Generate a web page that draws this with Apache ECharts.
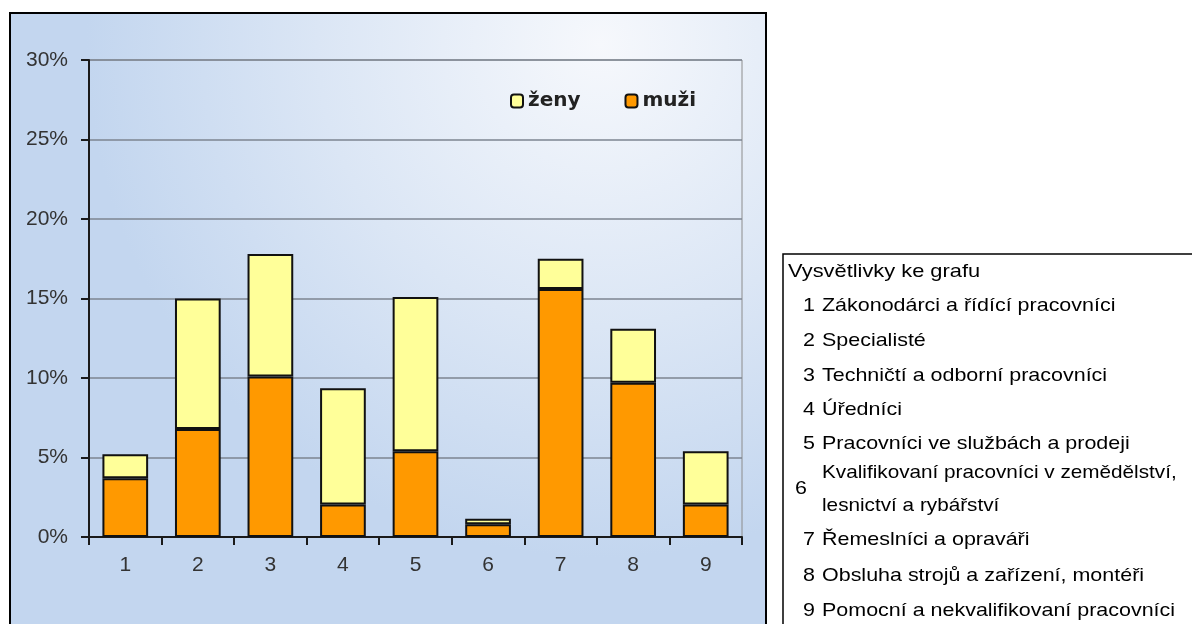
<!DOCTYPE html>
<html>
<head>
<meta charset="utf-8">
<script src="https://cdn.jsdelivr.net/npm/echarts@6/dist/echarts.min.js"></script>
<style>
  html, body { margin: 0; padding: 0; background: #ffffff; }
  #chart { width: 1192px; height: 624px; }
</style>
</head>
<body>
<div id="chart"></div>
<script>
// ---- data ----
const categories = ['1', '2', '3', '4', '5', '6', '7', '8', '9'];
const muzi = [3.7, 6.8, 10.1, 2.05, 5.4, 0.8, 15.6, 9.7, 2.05];
const zeny = [1.5, 8.2, 7.7, 7.3, 9.7, 0.35, 1.9, 3.4, 3.35];
const seriesNames = ['muži', 'ženy'];
const legendOrder = ['ženy', 'muži'];
const yMin = 0;
const yMax = 30;
const yStep = 5;
const explanationTitle = 'Vysvětlivky ke grafu';
const explanationNumbers = ['1', '2', '3', '4', '5', '6', '7', '8', '9'];
const explanationTexts = [
  'Zákonodárci a řídící pracovníci',
  'Specialisté',
  'Techničtí a odborní pracovníci',
  'Úředníci',
  'Pracovníci ve službách a prodeji',
  'Kvalifikovaní pracovníci v zemědělství,\nlesnictví a rybářství',
  'Řemeslníci a opraváři',
  'Obsluha strojů a zařízení, montéři',
  'Pomocní a nekvalifikovaní pracovníci'
];

// ---- layout ----
const chart = echarts.init(document.getElementById('chart'), null, { renderer: 'canvas' });

const boxFont = 'Arial, "Liberation Sans", sans-serif';
const axisFont = 'Arial, "Liberation Sans", sans-serif';
const rowY = [306, 341, 376, 410, 444, 489, 540, 576, 611];
const graphics = [];

// chart frame with gradient background
graphics.push({
  type: 'rect', z: -10, silent: true,
  shape: { x: 10, y: 13, width: 756, height: 640 },
  style: {
    fill: {
      type: 'radial', x: 0.78, y: 0.05, r: 0.8,
      colorStops: [
        { offset: 0, color: '#f6f8fc' },
        { offset: 0.55, color: '#dbe6f5' },
        { offset: 1, color: '#c3d6ef' }
      ]
    },
    stroke: '#000', lineWidth: 2
  }
});

// explanation box
graphics.push({
  type: 'rect', silent: true,
  shape: { x: 783, y: 254, width: 420, height: 400 },
  style: { fill: '#fff', stroke: '#000', lineWidth: 1.5 }
});
graphics.push({
  type: 'text', silent: true, x: 788, y: 272, scaleX: 1.18,
  style: { text: explanationTitle, font: '18.5px ' + boxFont, fill: '#000', verticalAlign: 'middle' }
});
explanationNumbers.forEach(function (num, i) {
  const isDouble = explanationTexts[i].indexOf('\n') >= 0;
  graphics.push({
    type: 'text', silent: true, x: isDouble ? 795 : 803, y: rowY[i], scaleX: 1.16,
    style: { text: num, font: '18.5px ' + boxFont, fill: '#000', verticalAlign: 'middle' }
  });
  graphics.push({
    type: 'text', silent: true, x: 822, y: rowY[i], scaleX: isDouble ? 1.12 : 1.16,
    style: { text: explanationTexts[i], font: '18.5px ' + boxFont, fill: '#000', verticalAlign: 'middle', lineHeight: 33 }
  });
});

const option = {
  animation: false,
  backgroundColor: '#ffffff',
  graphic: graphics,
  legend: {
    data: legendOrder,
    left: 505, top: 86,
    itemWidth: 12, itemHeight: 13, itemGap: 44,
    textStyle: { fontFamily: '"DejaVu Sans", sans-serif', fontWeight: 'bold', fontSize: 20, color: '#222' }
  },
  grid: {
    left: 89, right: 450, top: 60, bottom: 87,
    show: true, borderColor: '#8c8c8c', borderWidth: 1, backgroundColor: 'transparent'
  },
  xAxis: {
    type: 'category',
    data: categories,
    axisLine: { lineStyle: { color: '#1a1a1a', width: 2 } },
    axisTick: { show: true, alignWithLabel: false, length: 8, lineStyle: { color: '#1a1a1a', width: 2 } },
    axisLabel: { margin: 18, fontFamily: axisFont, fontSize: 21, color: '#333' },
    splitLine: { show: false }
  },
  yAxis: {
    type: 'value',
    min: yMin, max: yMax, interval: yStep,
    axisLine: { show: true, lineStyle: { color: '#1a1a1a', width: 2 } },
    axisTick: { show: true, length: 8, lineStyle: { color: '#1a1a1a', width: 2 } },
    axisLabel: { margin: 21, formatter: '{value}%', fontFamily: axisFont, fontSize: 21, color: '#333' },
    splitLine: { show: true, lineStyle: { color: '#7d8590', width: 1.5 } }
  },
  series: [
    {
      name: seriesNames[0], type: 'bar', stack: 'total', data: muzi,
      barWidth: '63%',
      itemStyle: { color: '#ff9900', borderColor: '#111', borderWidth: 2 }
    },
    {
      name: seriesNames[1], type: 'bar', stack: 'total', data: zeny,
      barWidth: '63%',
      itemStyle: { color: '#ffff99', borderColor: '#111', borderWidth: 2 }
    }
  ]
};
chart.setOption(option);
</script>
</body>
</html>
